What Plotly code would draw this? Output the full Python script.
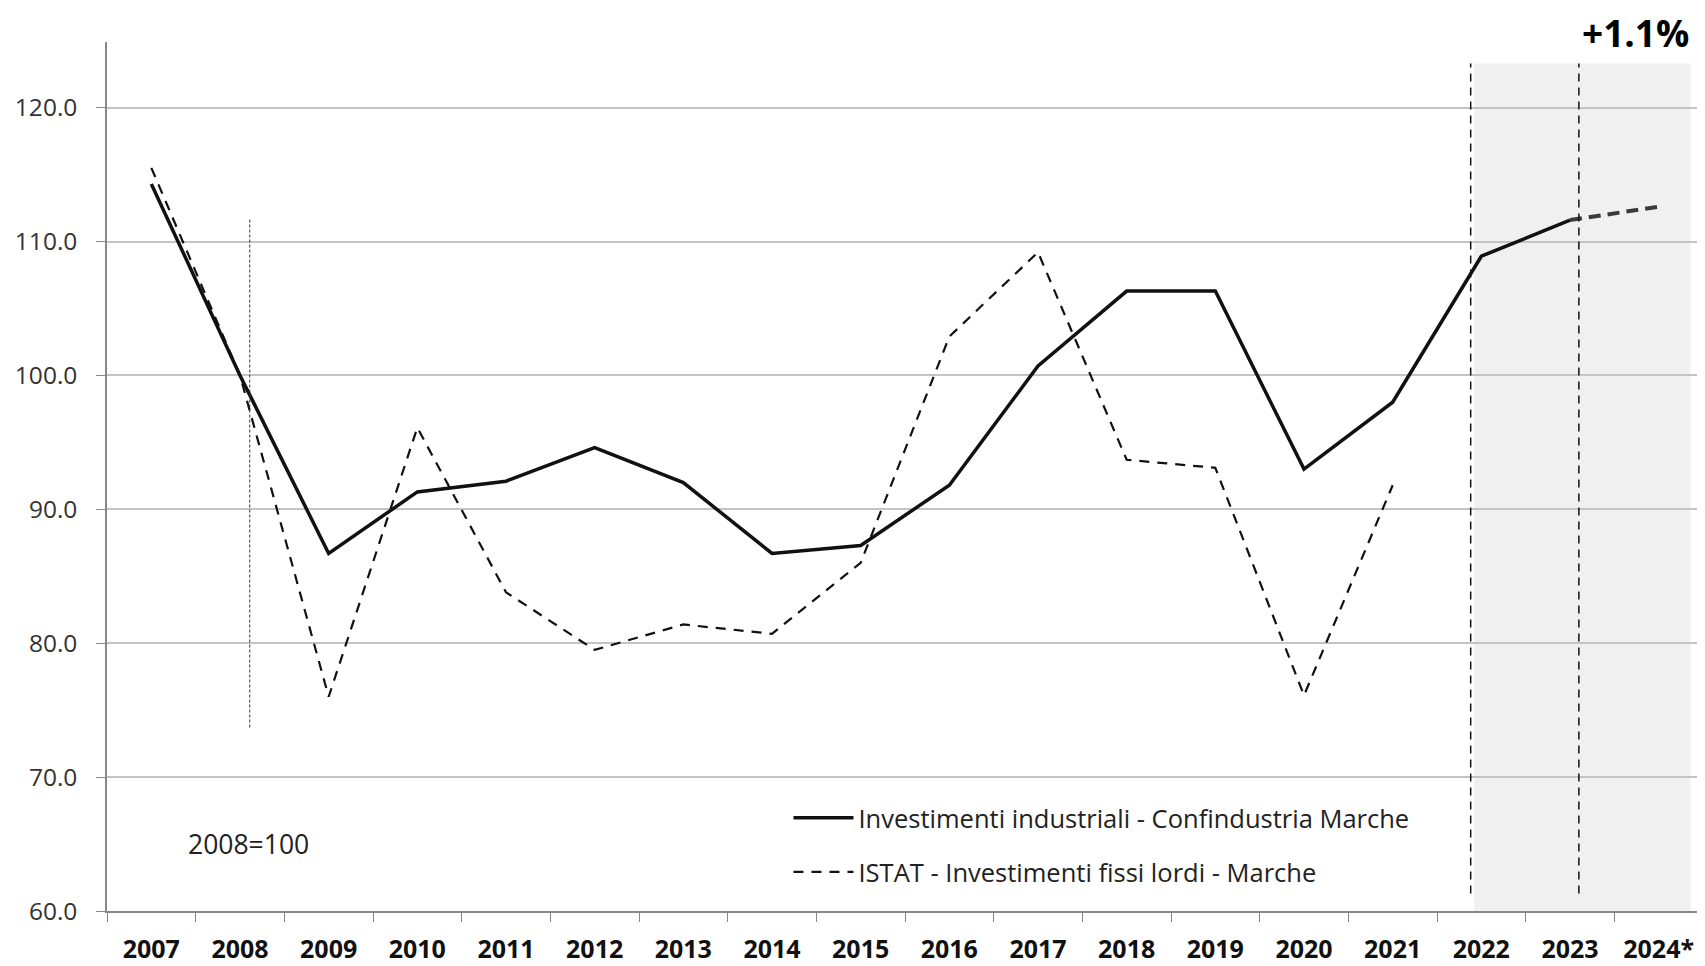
import plotly.graph_objects as go

# Dati (indice 2008=100)
anni = ["2007", "2008", "2009", "2010", "2011", "2012", "2013", "2014", "2015",
        "2016", "2017", "2018", "2019", "2020", "2021", "2022", "2023", "2024*"]
confindustria = [114.3, 100.0, 86.7, 91.3, 92.1, 94.6, 92.0, 86.7, 87.3,
                 91.8, 100.7, 106.3, 106.3, 93.0, 98.0, 108.9, 111.6, 112.6]
istat = [115.5, 100.0, 76.0, 96.1, 83.8, 79.5, 81.4, 80.7, 86.0,
         102.9, 109.2, 93.7, 93.1, 76.1, 91.8, None, None, None]
y_ticks = [60, 70, 80, 90, 100, 110, 120]

fnt = "Open Sans, Noto Sans, sans-serif"

fig = go.Figure()

# consuntivo fino al 2023, previsione 2023-2024 tratteggiata
fig.add_trace(go.Scatter(x=anni[:17], y=confindustria[:17], mode="lines",
                         name="Investimenti industriali - Confindustria Marche",
                         legendgroup="conf",
                         line=dict(color="#111111", width=3.5)))
fig.add_trace(go.Scatter(x=anni[16:], y=confindustria[16:], mode="lines",
                         showlegend=False, legendgroup="conf",
                         line=dict(color="#3a3a3a", width=4, dash="12px,7px")))
fig.add_trace(go.Scatter(x=anni, y=istat, mode="lines",
                         name="ISTAT - Investimenti fissi lordi - Marche",
                         legendgroup="istat",
                         line=dict(color="#111111", width=2.2, dash="10px,8px")))

# area di previsione e linee verticali
fig.add_shape(type="rect", xref="x", yref="y", x0=14.92, x1=17.36, y0=60, y1=123.3,
              fillcolor="#f0f0f0", line_width=0, layer="below")
for xv in [14.88, 16.1]:
    fig.add_shape(type="line", xref="x", yref="y", x0=xv, x1=xv, y0=61.3, y1=123.3,
                  line=dict(color="#111111", width=1.5, dash="8px,6px"))
fig.add_shape(type="line", xref="x", yref="y", x0=1.11, x1=1.11, y0=73.7, y1=111.7,
              line=dict(color="#333333", width=1, dash="3px,2px"))

fig.add_annotation(x=1.1, y=65.0, xref="x", yref="y", text="2008=100", showarrow=False,
                   xanchor="center", yanchor="middle",
                   font=dict(family=fnt, size=26.5, color="#222222"))
fig.add_annotation(x=16.74, y=1.0104, xref="x", yref="paper", text="<b>+1.1%</b>",
                   showarrow=False, xanchor="center", yanchor="middle", borderpad=0,
                   font=dict(family=fnt, size=37, color="#000000"))

# la pagina ha un margine di 8px: dimensioni e margini compensati
fig.update_layout(
    width=1697, height=958,
    margin=dict(l=99, r=2, t=34, b=55),
    plot_bgcolor="white", paper_bgcolor="white",
    font=dict(family=fnt, color="#222222"),
    legend=dict(x=0.427, y=0.134, xanchor="left", yanchor="top",
                traceorder="grouped", tracegroupgap=18, itemwidth=60,
                font=dict(family=fnt, size=25.5, color="#222222"),
                bgcolor="rgba(0,0,0,0)"),
)
fig.update_xaxes(type="category", tickson="boundaries", ticks="outside", ticklen=9,
                 tickcolor="#888888", showline=True, linecolor="#888888", linewidth=1.5,
                 showgrid=False, ticklabelstandoff=15,
                 tickfont=dict(family=fnt, size=25, color="#111111", weight="bold"),
                 range=[-0.5, 17.5])
fig.update_yaxes(range=[60, 124.9], tickvals=y_ticks, tickformat=".1f",
                 ticks="outside", ticklen=9, tickcolor="#888888",
                 showline=True, linecolor="#888888", linewidth=1.5,
                 showgrid=True, gridcolor="#c4c4c4", gridwidth=1.5, zeroline=False,
                 ticklabelstandoff=14,
                 tickfont=dict(family=fnt, size=24.5, color="#333333"))

fig.write_html("out.html")
